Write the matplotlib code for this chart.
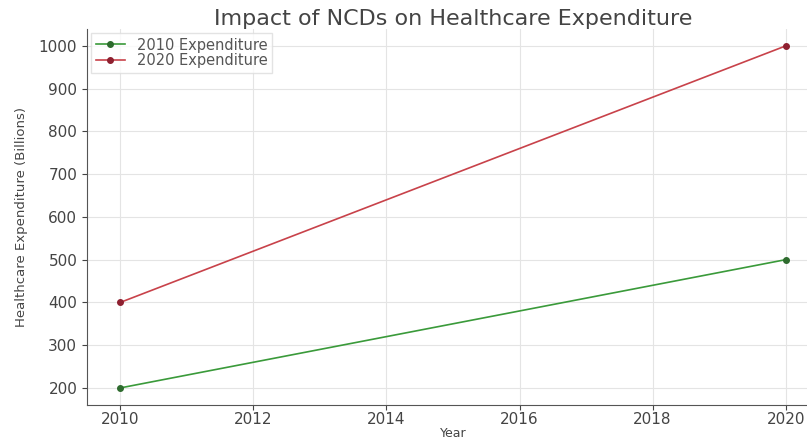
import matplotlib.pyplot as plt

years = [2010, 2020]
exp_2010 = [200, 500]
exp_2020 = [400, 1000]
yticks = [200, 300, 400, 500, 600, 700, 800, 900, 1000]
xticks = [2010, 2012, 2014, 2016, 2018, 2020]

fig = plt.figure(figsize=(8.07, 4.4), dpi=100)
ax = fig.add_axes([0.1078, 0.0795, 0.907, 0.855])

ax.plot(years, exp_2010, color='#3a9a3a', marker='o', markersize=4,
        markerfacecolor='#2e6b2e', markeredgecolor='#2e6b2e', linewidth=1.2, label='2010 Expenditure')
ax.plot(years, exp_2020, color='#c8424a', marker='o', markersize=4,
        markerfacecolor='#8e2030', markeredgecolor='#8e2030', linewidth=1.2, label='2020 Expenditure')

ax.set_xticks(xticks)
ax.set_yticks(yticks)
ax.tick_params(labelsize=11, colors='#444444', length=3.5)
ax.tick_params(axis='x', pad=1.5)
ax.grid(True, color='#e4e4e4', linewidth=0.8)
for s in ['top', 'right']:
    ax.spines[s].set_visible(False)
for s in ['left', 'bottom']:
    ax.spines[s].set_color('#555555')

ax.set_title('Impact of NCDs on Healthcare Expenditure', fontsize=16, color='#444444', pad=3)
ax.set_xlabel('Year', fontsize=9, color='#444444', labelpad=0)
ax.set_ylabel('Healthcare Expenditure (Billions)', fontsize=9.5, color='#444444', labelpad=8)
ax.legend(loc='upper left', fontsize=10.5, frameon=True, edgecolor='#dddddd', fancybox=False,
          labelspacing=0.05, borderpad=0.3, handlelength=2, borderaxespad=0.3,
          labelcolor='#555555')

plt.savefig('out.png', dpi=100)
